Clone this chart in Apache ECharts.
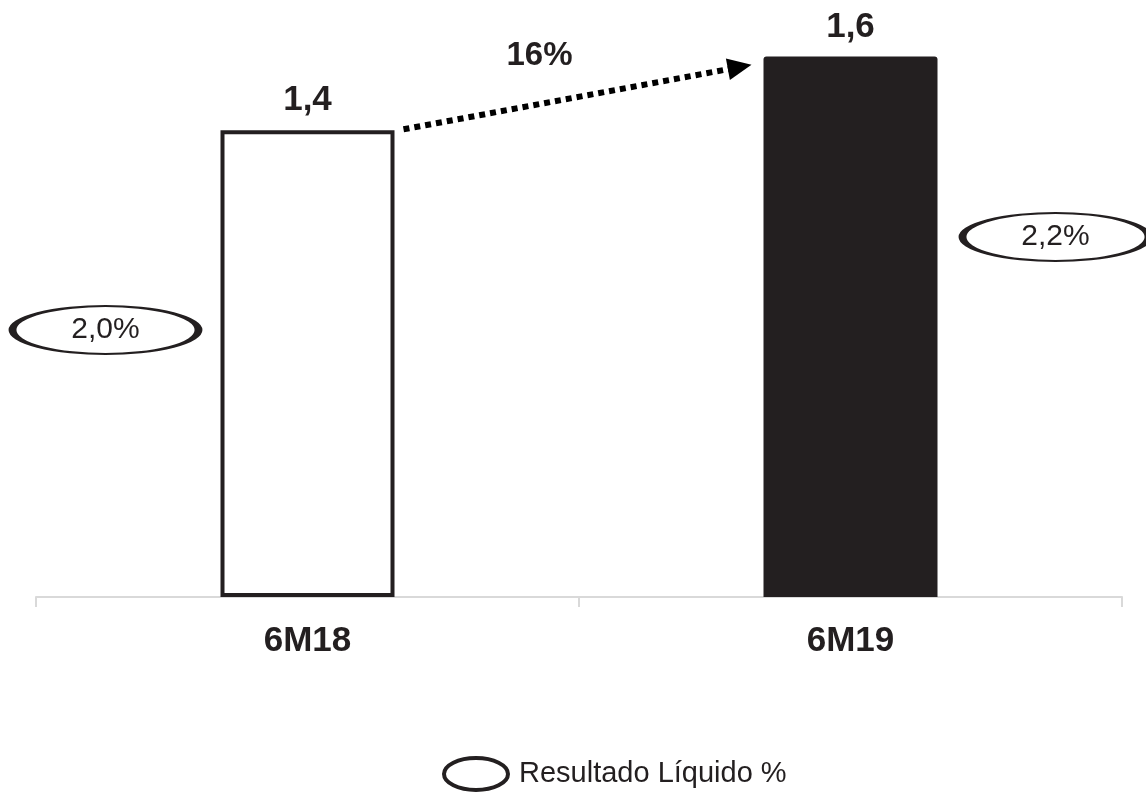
<!DOCTYPE html>
<html>
<head>
<meta charset="utf-8">
<script src="https://cdn.jsdelivr.net/npm/echarts@6/dist/echarts.min.js"></script>
<style>
html,body{margin:0;padding:0;background:#fff;}
#main{width:1146px;height:805px;}
</style>
</head>
<body>
<div id="main"></div>
<script>
const categories = ['6M18', '6M19'];
const resultValues = [1.39, 1.61];          // bars (shown as 1,4 / 1,6)
const marginValues = [2.0, 2.2];            // Resultado Líquido %
const growthLabel = '16%';
const legendName = 'Resultado Líquido %';

const FONT = '"Liberation Sans", Arial, sans-serif';
const DARK = '#231f20';
const ELLIPSE = 'path://M0,50 A100,50 0 1,1 200,50 A100,50 0 1,1 0,50 Z';
const fmt = v => v.toFixed(1).replace('.', ',');
const offsets = [-202, 205];

const chart = echarts.init(document.getElementById('main'));
const option = {
  animation: false,
  backgroundColor: '#fff',
  grid: {left: 36, right: 24, top: 43, bottom: 208},
  legend: {
    data: [legendName],
    left: 437, top: 751,
    icon: ELLIPSE,
    itemWidth: 72, itemHeight: 32, itemGap: 10,
    itemStyle: {color: '#fff', borderColor: DARK, borderWidth: 4, opacity: 1},
    textStyle: {fontSize: 29, fontFamily: FONT, color: DARK, padding: [0, 0, 0, 2]}
  },
  xAxis: {
    type: 'category',
    data: categories,
    axisLine: {lineStyle: {color: '#d9d9d9', width: 2}},
    axisTick: {show: true, length: 10, lineStyle: {color: '#d9d9d9', width: 2}},
    axisLabel: {fontSize: 35, fontWeight: 'bold', fontFamily: FONT, color: DARK, margin: 27}
  },
  yAxis: [
    {type: 'value', min: 0, max: 1.65, show: false, splitLine: {show: false}},
    {type: 'value', min: 1.426, max: 2.617, show: false, splitLine: {show: false}}
  ],
  series: [
    {
      type: 'bar',
      name: 'Resultado',
      barWidth: 174,
      data: [
        {value: resultValues[0], itemStyle: {color: '#fff', borderColor: DARK, borderWidth: 4}},
        {value: resultValues[1], itemStyle: {color: DARK, borderRadius: [3, 3, 0, 0]}}
      ],
      label: {
        show: true, position: 'top', distance: 12,
        formatter: p => fmt(p.value),
        fontSize: 35, fontWeight: 'bold', fontFamily: FONT, color: DARK
      }
    },
    {
      type: 'scatter',
      name: legendName,
      yAxisIndex: 1,
      symbol: ELLIPSE,
      symbolSize: [186, 48],
      z: 5,
      clip: false,
      itemStyle: {color: '#fff', borderColor: DARK, borderWidth: 4, opacity: 1},
      data: marginValues.map((v, i) => ({
        value: [i, v],
        symbolOffset: [offsets[i], 0]
      })),
      label: {
        show: true, position: 'inside',
        formatter: p => fmt(p.value[1]) + '%',
        fontSize: 30, fontFamily: FONT, color: DARK
      }
    }
  ]
};
chart.setOption(option);

// growth arrow between the bars
const p0 = chart.convertToPixel({seriesIndex: 0}, [0, resultValues[0]]);
const p1 = chart.convertToPixel({seriesIndex: 0}, [1, 1.585]);
const sx = p0[0] + 96, sy = p0[1] - 1;
const ex = p1[0] - 99, ey = p1[1];
const ang = Math.atan2(ey - sy, ex - sx);
const hl = 24, hw = 11;
const bx = ex - hl * Math.cos(ang), by = ey - hl * Math.sin(ang);
const nx = -Math.sin(ang), ny = Math.cos(ang);
chart.setOption({
  graphic: [
    {type: 'line', shape: {x1: sx, y1: sy, x2: bx + 2 * Math.cos(ang), y2: by + 2 * Math.sin(ang)},
     style: {stroke: '#000', lineWidth: 6, lineDash: [6, 5]}},
    {type: 'polygon', shape: {points: [[ex, ey], [bx + nx * hw, by + ny * hw], [bx - nx * hw, by - ny * hw]]},
     style: {fill: '#000'}},
    {type: 'text', x: (sx + ex) / 2 - 38, y: (sy + ey) / 2 - 41,
     style: {text: growthLabel, fontSize: 33, fontWeight: 'bold', fontFamily: FONT, fill: DARK,
             align: 'center', verticalAlign: 'middle'}}
  ]
});
</script>
</body>
</html>
